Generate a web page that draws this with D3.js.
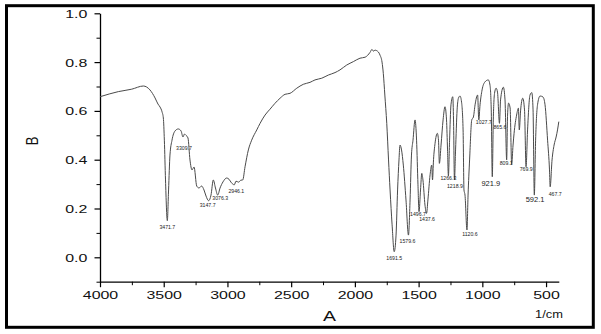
<!DOCTYPE html>
<html>
<head>
<meta charset="utf-8">
<script src="https://cdn.jsdelivr.net/npm/d3@7/dist/d3.min.js"></script>
<style>
  html, body { margin: 0; padding: 0; background: #fff; }
  svg { display: block; }
  text { font-family: "Liberation Sans", Arial, sans-serif; }
</style>
</head>
<body>
<svg id="chart" width="601" height="334"></svg>
<script>
// IR spectrum: wavenumber (1/cm) vs. signal
const wavenumbers = [
  4000, 3856, 3751, 3660, 3608, 3568, 3545, 3529, 3513, 3503, 3495, 3486, 3471.7,
  3462, 3451, 3435, 3411, 3386, 3364, 3349, 3337, 3325, 3309.7, 3294, 3278, 3262,
  3241, 3223, 3203, 3184, 3168, 3147.7, 3129, 3111, 3094, 3076.3, 3058, 3035, 3006,
  2988, 2968, 2946.1, 2933, 2912, 2895, 2880, 2862, 2836, 2810, 2770, 2744, 2705,
  2666, 2627, 2587, 2548, 2509, 2456, 2405, 2352, 2313, 2260, 2208, 2156, 2117,
  2064, 2012, 1960, 1920, 1881, 1866, 1855, 1842, 1829, 1803, 1787, 1777, 1765,
  1750, 1736, 1724, 1708, 1691.5, 1677, 1665, 1654, 1646, 1634, 1620, 1599, 1579.6,
  1567, 1556, 1544, 1528, 1516, 1505, 1496.7, 1485, 1475, 1466, 1450, 1437.6, 1427,
  1410, 1397, 1391, 1383, 1371, 1353, 1344, 1337, 1324, 1308, 1293, 1281, 1273,
  1266.3, 1257, 1246, 1232, 1226, 1218.9, 1210, 1198, 1187, 1175, 1163, 1151, 1144,
  1136, 1120.6, 1112, 1100, 1083, 1070, 1057, 1037, 1027.7, 1018, 1002, 979, 953,
  940, 930, 921.9, 914, 904, 892, 881, 865.6, 857, 835, 822, 809.1, 802, 794, 782,
  769.9, 759, 751, 731, 717, 710, 700, 683, 669, 657, 645, 626, 612, 602, 592.1,
  582, 567, 547, 524, 508, 488, 473, 467.7, 453, 437, 421, 410, 400
];
const intensity = [
  0.658, 0.679, 0.689, 0.702, 0.686, 0.653, 0.628, 0.616, 0.596, 0.571, 0.480, 0.317, 0.150,
  0.276, 0.419, 0.480, 0.518, 0.526, 0.518, 0.493, 0.505, 0.500, 0.489, 0.399, 0.358, 0.370,
  0.292, 0.284, 0.292, 0.276, 0.251, 0.232, 0.255, 0.317, 0.284, 0.255, 0.284, 0.309, 0.325,
  0.320, 0.305, 0.297, 0.312, 0.308, 0.316, 0.317, 0.371, 0.440, 0.480, 0.522, 0.549, 0.583,
  0.607, 0.631, 0.652, 0.668, 0.672, 0.693, 0.709, 0.717, 0.727, 0.734, 0.747, 0.757, 0.768,
  0.788, 0.802, 0.816, 0.820, 0.840, 0.852, 0.845, 0.849, 0.847, 0.829, 0.800, 0.754, 0.665,
  0.549, 0.399, 0.276, 0.133, 0.023, 0.091, 0.276, 0.399, 0.460, 0.440, 0.378, 0.235, 0.091,
  0.235, 0.419, 0.480, 0.563, 0.480, 0.297, 0.187, 0.276, 0.344, 0.317, 0.214, 0.180, 0.235,
  0.338, 0.378, 0.317, 0.400, 0.467, 0.508, 0.480, 0.385, 0.460, 0.563, 0.617, 0.563, 0.440,
  0.333, 0.480, 0.625, 0.658, 0.563, 0.317, 0.440, 0.604, 0.653, 0.661, 0.636, 0.522, 0.276,
  0.255, 0.112, 0.255, 0.399, 0.563, 0.575, 0.625, 0.665, 0.563, 0.625, 0.686, 0.719, 0.727,
  0.706, 0.604, 0.330, 0.563, 0.673, 0.693, 0.677, 0.549, 0.645, 0.697, 0.645, 0.399, 0.583, 0.632, 0.612,
  0.381, 0.460, 0.508, 0.583, 0.611, 0.522, 0.600, 0.652, 0.604, 0.371, 0.522, 0.665, 0.675, 0.604, 0.255,
  0.480, 0.625, 0.661, 0.657, 0.625, 0.480, 0.358, 0.289, 0.399, 0.460, 0.493, 0.522, 0.556
];

// Annotated band positions (1/cm)
const peakWavenumbers = [
  3471.7, 3309.7, 3147.7, 3076.3, 2946.1, 1691.5, 1579.6, 1496.7, 1437.6,
  1266.3, 1218.9, 1120.6, 1027.7, 921.9, 865.6, 809.1, 769.9, 592.1, 467.7
];

const xTickValues = [4000, 3500, 3000, 2500, 2000, 1500, 1000, 500];
const yTickValues = [0.0, 0.2, 0.4, 0.6, 0.8, 1.0];
const xLabel = "A";
const yLabel = "B";
const xUnit = "1/cm";

// Label placement (pixel offsets from the band minimum) and size
const labelStyle = {
  3471.7: { dx: 0, dy: 8 }, 3309.7: { dx: -4, dy: 12 }, 3147.7: { dx: -1, dy: 6.5 },
  3076.3: { dx: 2.5, dy: 5 }, 2946.1: { dx: 2, dy: 8 }, 1691.5: { dx: 0, dy: 8.5 },
  1579.6: { dx: -1, dy: 8 }, 1496.7: { dx: -1, dy: 4.5 }, 1437.6: { dx: 0.5, dy: 8 },
  1266.3: { dx: 0, dy: 3.5 }, 1218.9: { dx: 0.5, dy: 8.5 }, 1120.6: { dx: 3, dy: 6 },
  1027.7: { dx: 5, dy: 4 }, 921.9: { dx: -1.5, dy: 9.5, big: true }, 865.6: { dx: 0.5, dy: 6 },
  809.1: { dx: -0.5, dy: 5.5 }, 769.9: { dx: 14.5, dy: 7 }, 592.1: { dx: 0.7, dy: 6.5, big: true },
  467.7: { dx: 5, dy: 9.5 }
};

const svg = d3.select("#chart");

// outer frame
svg.append("rect")
  .attr("x", 6.5).attr("y", 5.7)
  .attr("width", 586.8).attr("height", 321.6)
  .attr("fill", "#fff")
  .attr("stroke", "#000")
  .attr("stroke-width", 3);

const x = d3.scaleLinear().domain([4000, 400]).range([100, 558.8]);
const y = d3.scaleLinear().domain([-0.1, 1.0]).range([281.7, 13.3]);

const stretch = 1.45;

// minor ticks
const xMinor = d3.range(3750, 400, -500);
const yMinor = [-0.1, 0.1, 0.3, 0.5, 0.7, 0.9];

const gx = svg.append("g").attr("transform", `translate(0,${y.range()[0]})`);
gx.call(d3.axisBottom(x).tickValues(xMinor).tickSize(3.5).tickFormat(""))
  .call(g => g.select(".domain").remove());
gx.append("g").call(d3.axisBottom(x).tickValues(xTickValues).tickSize(5.5).tickSizeOuter(0)
    .tickFormat(d3.format("d")))
  .call(g => g.select(".domain").attr("stroke-width", 1.3))
  .call(g => g.selectAll(".tick line").attr("stroke-width", 1.2))
  .call(g => g.selectAll("text")
    .attr("font-size", 11).attr("fill", "#111")
    .attr("font-family", "Liberation Sans, Arial, sans-serif")
    .attr("y", 9.5)
    .attr("transform", `scale(${stretch},1)`));
gx.selectAll("line").attr("stroke", "#000");

const gy = svg.append("g").attr("transform", `translate(${x.range()[0]},0)`);
gy.call(d3.axisLeft(y).tickValues(yMinor).tickSize(3.5).tickFormat(""))
  .call(g => g.select(".domain").remove());
gy.append("g").call(d3.axisLeft(y).tickValues(yTickValues).tickSize(5.5).tickSizeOuter(0)
    .tickFormat(d3.format(".1f")))
  .call(g => g.select(".domain").attr("stroke-width", 1.3))
  .call(g => g.selectAll(".tick line").attr("stroke-width", 1.2))
  .call(g => g.selectAll("text")
    .attr("font-size", 11).attr("fill", "#111")
    .attr("font-family", "Liberation Sans, Arial, sans-serif")
    .attr("x", -12.7 / stretch)
    .attr("dy", "0.36em")
    .attr("transform", `scale(${stretch},1)`));
gy.selectAll("line").attr("stroke", "#000");

// axis titles
svg.append("text")
  .attr("transform", "translate(38,141) rotate(-90) scale(1,1.25)")
  .attr("text-anchor", "middle")
  .attr("font-size", 13)
  .attr("fill", "#111")
  .text(yLabel);

svg.append("text")
  .attr("transform", "translate(329.5,321) scale(1.3,1)")
  .attr("text-anchor", "middle")
  .attr("font-size", 15)
  .attr("fill", "#111")
  .text(xLabel);

svg.append("text")
  .attr("transform", "translate(549,318.3) scale(1.12,1)")
  .attr("text-anchor", "middle")
  .attr("font-size", 11.5)
  .attr("fill", "#111")
  .text(xUnit);

// spectrum trace
const points = wavenumbers.map((w, i) => [w, intensity[i]]);
const line = d3.line()
  .x(d => x(d[0]))
  .y(d => y(d[1]))
  .curve(d3.curveMonotoneX);

svg.append("path")
  .datum(points)
  .attr("fill", "none")
  .attr("stroke", "#4a4a4a")
  .attr("stroke-width", 1)
  .attr("stroke-linejoin", "round")
  .attr("d", line);

// band annotations
const lookup = new Map(points.map(p => [p[0], p[1]]));
svg.append("g").selectAll("text")
  .data(peakWavenumbers)
  .join("text")
  .attr("x", d => x(d) + labelStyle[d].dx)
  .attr("y", d => y(lookup.get(d)) + labelStyle[d].dy)
  .attr("text-anchor", "middle")
  .attr("font-size", d => labelStyle[d].big ? 7.5 : 5.2)
  .attr("fill", "#222")
  .text(d => d.toFixed(1));
</script>
</body>
</html>
